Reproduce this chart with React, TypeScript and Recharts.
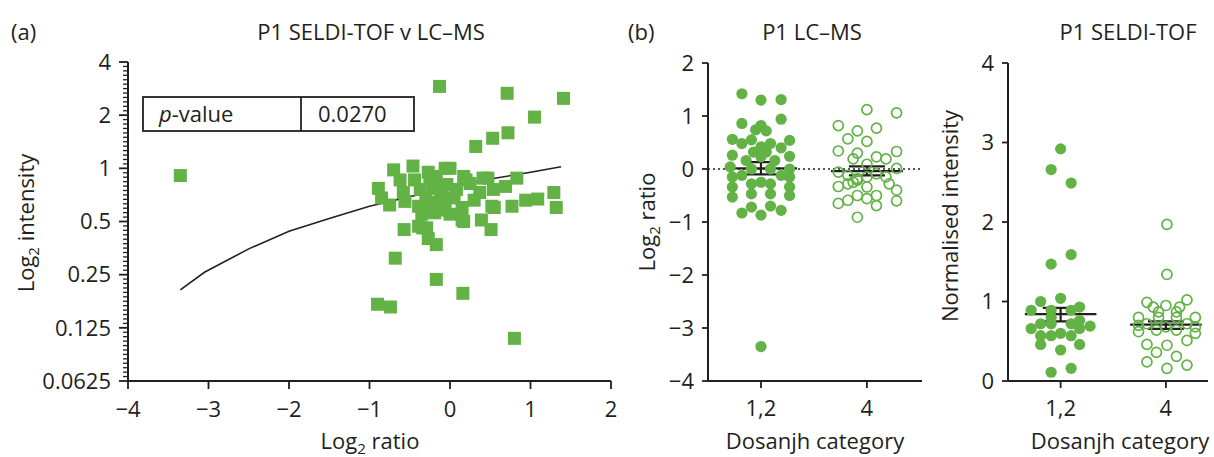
import React from "react";
import { ScatterChart, Scatter, XAxis, YAxis, ReferenceLine } from "recharts";

const GREEN = "#62b246";
const INK = "#231f20";
const FONT = '"Open Sans", "Noto Sans", sans-serif';

// panel (a): log2 ratio (LC-MS) vs SELDI-TOF intensity
const ratioTicks = [-4, -3, -2, -1, 0, 1, 2];
const intensityTicks = [0.0625, 0.125, 0.25, 0.5, 1, 2, 4];
const scatterPoints: [number, number][] = [
  [-3.35, 0.91], [-0.13, 2.91], [0.71, 2.66], [1.41, 2.49], [1.05, 1.95], [0.72, 1.59],
  [0.53, 1.48], [0.32, 1.33], [1.29, 0.73], [1.32, 0.6], [1.09, 0.67], [0.94, 0.66],
  [0.77, 0.61], [0.55, 0.6], [0.83, 0.88], [0.69, 0.79], [0.47, 0.88], [0.2, 0.86],
  [0.17, 0.5], [0.39, 0.51], [0.51, 0.45], [-0.57, 0.45], [-0.34, 0.46], [-0.27, 0.4],
  [-0.17, 0.37], [-0.68, 0.31], [-0.17, 0.235], [0.16, 0.196], [-0.9, 0.17], [-0.74, 0.164],
  [0.8, 0.109], [-0.7, 0.98], [-0.46, 1.03], [0.0, 1.0], [-0.27, 0.95], [-0.06, 1.0],
  [-0.89, 0.77], [-0.62, 0.86], [-0.44, 0.86], [-0.17, 0.9], [0.17, 0.9], [0.41, 0.88],
  [-0.85, 0.68], [-0.75, 0.62], [-0.58, 0.73], [-0.37, 0.76], [-0.21, 0.77], [-0.04, 0.81],
  [0.08, 0.76], [0.25, 0.82], [0.37, 0.73], [0.54, 0.76], [-0.56, 0.65], [-0.39, 0.61],
  [-0.23, 0.64], [-0.06, 0.62], [0.15, 0.6], [0.52, 0.61], [-0.35, 0.55], [-0.19, 0.56],
  [0.15, 0.51], [-0.39, 0.47], [-0.29, 0.46], [-0.12, 0.7], [-0.3, 0.68], [0.05, 0.68],
  [-0.15, 0.58], [0.3, 0.66], [-0.25, 0.85], [-0.1, 0.78], [-0.2, 0.6], [0.0, 0.55],
  [-0.08, 0.66], [-0.32, 0.58],
];
// fitted line
const fitLine: [number, number][] = [
  [-3.35, 0.205], [-3.05, 0.258], [-2.5, 0.35], [-2.0, 0.44], [-1.5, 0.52], [-1.0, 0.61],
  [-0.5, 0.69], [0.0, 0.78], [0.5, 0.87], [1.0, 0.95], [1.38, 1.02],
];

// panel (b): categories and per-group points as [jitter, value]
const categories = ["1,2", "4"];
const lcTicks = [-4, -3, -2, -1, 0, 1, 2];
const lcCat12: [number, number][] = [
  [-0.18, 1.42], [0, 1.3], [0.19, 1.31], [0.19, 0.94], [-0.18, 0.86], [0, 0.82],
  [-0.05, 0.74], [0.05, 0.72], [-0.27, 0.56], [-0.09, 0.55], [-0.18, 0.48], [0.09, 0.48],
  [0.27, 0.54], [0.19, 0.4], [0, 0.42], [-0.07, 0.32], [0.05, 0.32], [-0.27, 0.26],
  [0.27, 0.24], [-0.14, 0.16], [0.13, 0.16], [0, 0.23], [-0.29, 0.04], [0.27, 0.0],
  [-0.09, 0.0], [0.09, 0.0], [-0.27, -0.15], [0.27, -0.15], [-0.18, -0.12], [0.19, -0.12],
  [-0.27, -0.34], [0.27, -0.34], [-0.09, -0.28], [0.09, -0.28], [0, -0.25], [-0.27, -0.53],
  [0.27, -0.5], [-0.09, -0.47], [0.09, -0.47], [-0.18, -0.83], [-0.09, -0.72], [0, -0.87],
  [0.09, -0.7], [0.19, -0.78], [0, -3.35],
];
const lcCat4: [number, number][] = [
  [0, 1.12], [0.28, 1.06], [-0.27, 0.82], [0.09, 0.77], [-0.09, 0.72], [-0.18, 0.57],
  [0, 0.52], [-0.27, 0.34], [-0.09, 0.3], [0.28, 0.33], [0.09, 0.23], [-0.13, 0.19],
  [0.18, 0.19], [0, 0.09], [-0.27, -0.06], [0.28, 0.01], [-0.18, -0.12], [-0.09, -0.18],
  [-0.13, -0.25], [0, -0.15], [0.09, -0.09], [0.18, -0.15], [0.21, -0.28], [-0.27, -0.33],
  [-0.18, -0.28], [-0.09, -0.21], [0, -0.34], [0.28, -0.4], [0.09, -0.5], [-0.09, -0.5],
  [0, -0.56], [-0.18, -0.59], [-0.27, -0.65], [0.09, -0.69], [0.28, -0.6], [-0.09, -0.91],
];
const lcMean = [0.01, -0.04];
const lcUpper = [0.13, 0.05];
const lcLower = [-0.1, -0.12];

const seldiTicks = [0, 1, 2, 3, 4];
const seldiCat12: [number, number][] = [
  [0, 2.92], [-0.09, 2.66], [0.1, 2.49], [0.1, 1.59], [-0.09, 1.47], [-0.19, 1.0],
  [0, 1.04], [0.18, 0.93], [-0.28, 0.89], [-0.09, 0.89], [0.1, 0.89], [0.28, 0.69],
  [-0.28, 0.66], [-0.19, 0.72], [-0.09, 0.72], [0.1, 0.72], [0.18, 0.66], [-0.19, 0.57],
  [-0.09, 0.57], [0, 0.6], [0.1, 0.57], [-0.19, 0.46], [0.18, 0.46], [0, 0.39],
  [-0.09, 0.11], [0.1, 0.16], [-0.09, 0.8], [0.18, 0.76],
];
const seldiCat4: [number, number][] = [
  [0.01, 1.97], [0.01, 1.34], [-0.18, 0.99], [0.2, 1.02], [0, 0.95], [-0.26, 0.8],
  [0.28, 0.8], [-0.07, 0.87], [0.1, 0.87], [-0.18, 0.72], [0.2, 0.72], [-0.26, 0.62],
  [0.28, 0.6], [-0.09, 0.64], [0.1, 0.64], [0, 0.68], [-0.18, 0.46], [0.2, 0.51],
  [0.01, 0.45], [-0.09, 0.36], [0.1, 0.31], [-0.18, 0.24], [0.2, 0.2], [0.01, 0.16],
  [-0.07, 0.8], [0.1, 0.8], [-0.26, 0.7], [0.28, 0.68], [-0.12, 0.93], [0.13, 0.93],
];
const seldiMean = [0.84, 0.71];
const seldiUpper = [0.92, 0.75];
const seldiLower = [0.75, 0.655];

const minus = (v: number) => (v < 0 ? "\u2212" + Math.abs(v) : String(v));

// log2 axis: 11 minor ticks between each pair of powers of two, placed on the y axis (x = -4)
const minorTicks: { x: number; y: number }[] = [];
intensityTicks.slice(0, -1).forEach((t) => {
  for (let k = 1; k < 12; k++) minorTicks.push({ x: -4, y: t * Math.pow(2, k / 12) });
});

const MinorTick = (props: any) => (
  <line x1={props.cx} x2={props.cx - 5} y1={props.cy} y2={props.cy} stroke={INK} strokeWidth={1.3} />
);
const Square = (props: any) => (
  <rect x={props.cx - 6.5} y={props.cy - 6.5} width={13} height={13} fill={GREEN} />
);
const Dot = (props: any) => <circle cx={props.cx} cy={props.cy} r={5.6} fill={GREEN} />;
const Ring = (props: any) => (
  <circle cx={props.cx} cy={props.cy} r={5} fill="none" stroke={GREEN} strokeWidth={1.7} />
);
const NoShape = () => <g />;

const tickStyle = { fontSize: 22, fill: INK, fontFamily: FONT };
const axisLine = { stroke: INK, strokeWidth: 2 };
const tickLine = { stroke: INK, strokeWidth: 1.8 };

function toXY(pts: [number, number][], cat: number) {
  return pts.map(([dx, v]) => ({ x: cat + dx, y: v }));
}

function MeanBars({ mean, upper, lower }: { mean: number[]; upper: number[]; lower: number[] }) {
  return (
    <>
      {mean.map((m, i) => (
        <ReferenceLine key={"m" + i} segment={[{ x: i - 0.34, y: m }, { x: i + 0.34, y: m }]} stroke={INK} strokeWidth={2.2} />
      ))}
      {upper.map((u, i) => (
        <ReferenceLine key={"u" + i} segment={[{ x: i - 0.17, y: u }, { x: i + 0.17, y: u }]} stroke={INK} strokeWidth={2.2} />
      ))}
      {lower.map((lo, i) => (
        <ReferenceLine key={"l" + i} segment={[{ x: i - 0.17, y: lo }, { x: i + 0.17, y: lo }]} stroke={INK} strokeWidth={2.2} />
      ))}
      {upper.map((u, i) => (
        <ReferenceLine key={"v" + i} segment={[{ x: i, y: lower[i] }, { x: i, y: u }]} stroke={INK} strokeWidth={2.2} />
      ))}
    </>
  );
}

function Log2Label({ x, y, rest, rotate }: { x: number; y: number; rest: string; rotate?: boolean }) {
  return (
    <text
      x={x}
      y={y}
      textAnchor="middle"
      fontSize={22}
      fill={INK}
      fontFamily={FONT}
      transform={rotate ? `rotate(-90 ${x} ${y})` : undefined}
    >
      <tspan>Log</tspan>
      <tspan fontSize={15} dy={5}>2</tspan>
      <tspan dy={-5}>{" " + rest}</tspan>
    </text>
  );
}

export default function App() {
  const txt = { fontSize: 22, fill: INK, fontFamily: FONT };
  return (
    <div style={{ position: "fixed", left: 0, top: 0, width: 1214, height: 457, background: "#fff" }}>
      <div style={{ position: "absolute", left: 0, top: 0 }}>
        <ScatterChart width={620} height={457} margin={{ top: 62, right: 9, bottom: 36, left: 38 }}>
          <XAxis
            type="number"
            dataKey="x"
            domain={[-4, 2]}
            ticks={ratioTicks}
            tickFormatter={minus}
            tick={tickStyle}
            tickSize={8}
            tickMargin={12}
            height={40}
            axisLine={axisLine}
            tickLine={tickLine}
          />
          <YAxis
            type="number"
            dataKey="y"
            scale="log"
            domain={[0.0625, 4]}
            ticks={intensityTicks}
            interval={0}
            tickFormatter={(v: number) => String(v)}
            tick={tickStyle}
            tickSize={9}
            tickMargin={8}
            width={90}
            axisLine={axisLine}
            tickLine={tickLine}
          />
          <Scatter data={minorTicks} shape={MinorTick} isAnimationActive={false} />
          <Scatter
            data={fitLine.map(([x, y]) => ({ x, y }))}
            line={{ stroke: INK, strokeWidth: 1.6 }}
            shape={NoShape}
            isAnimationActive={false}
          />
          <Scatter data={scatterPoints.map(([x, y]) => ({ x, y }))} shape={Square} isAnimationActive={false} />
        </ScatterChart>
      </div>

      <div style={{ position: "absolute", left: 620, top: 0 }}>
        <ScatterChart width={310} height={457} margin={{ top: 63, right: 8, bottom: 36, left: 28 }}>
          <XAxis
            type="number"
            dataKey="x"
            domain={[-0.5, 1.52]}
            ticks={[0, 1]}
            tickFormatter={(v: number) => categories[v]}
            tick={tickStyle}
            tickSize={7}
            tickMargin={12}
            height={40}
            axisLine={axisLine}
            tickLine={tickLine}
          />
          <YAxis
            type="number"
            dataKey="y"
            domain={[-4, 2]}
            ticks={lcTicks}
            interval={0}
            tickFormatter={minus}
            tick={tickStyle}
            tickSize={6}
            tickMargin={8}
            width={60}
            axisLine={axisLine}
            tickLine={tickLine}
          />
          <ReferenceLine y={0} stroke={INK} strokeWidth={1.6} strokeDasharray="2 3" />
          <Scatter data={toXY(lcCat12, 0)} shape={Dot} isAnimationActive={false} />
          <Scatter data={toXY(lcCat4, 1)} shape={Ring} isAnimationActive={false} />
          {MeanBars({ mean: lcMean, upper: lcUpper, lower: lcLower })}
        </ScatterChart>
      </div>

      <div style={{ position: "absolute", left: 940, top: 0 }}>
        <ScatterChart width={274} height={457} margin={{ top: 63, right: 6, bottom: 36, left: 8 }}>
          <XAxis
            type="number"
            dataKey="x"
            domain={[-0.5, 1.4]}
            ticks={[0, 1]}
            tickFormatter={(v: number) => categories[v]}
            tick={tickStyle}
            tickSize={7}
            tickMargin={12}
            height={40}
            axisLine={axisLine}
            tickLine={tickLine}
          />
          <YAxis
            type="number"
            dataKey="y"
            domain={[0, 4]}
            ticks={seldiTicks}
            interval={0}
            tick={tickStyle}
            tickSize={6}
            tickMargin={8}
            width={60}
            axisLine={axisLine}
            tickLine={tickLine}
          />
          <Scatter data={toXY(seldiCat12, 0)} shape={Dot} isAnimationActive={false} />
          <Scatter data={toXY(seldiCat4, 1)} shape={Ring} isAnimationActive={false} />
          {MeanBars({ mean: seldiMean, upper: seldiUpper, lower: seldiLower })}
        </ScatterChart>
      </div>

      <svg width={1214} height={457} style={{ position: "absolute", left: 0, top: 0, pointerEvents: "none" }}>
        <text x={11} y={40} {...txt}>(a)</text>
        <text x={371} y={40} textAnchor="middle" {...txt}>P1 SELDI-TOF v LC–MS</text>
        <text x={628} y={40} {...txt}>(b)</text>
        <text x={812} y={40} textAnchor="middle" {...txt}>P1 LC–MS</text>
        <text x={1128} y={40} textAnchor="middle" {...txt}>P1 SELDI-TOF</text>

        <Log2Label x={370} y={449} rest="ratio" />
        <Log2Label x={34} y={223} rest="intensity" rotate />
        <Log2Label x={655} y={222} rest="ratio" rotate />
        <text x={958} y={216} textAnchor="middle" fontSize={22} fill={INK} fontFamily={FONT} transform="rotate(-90 958 216)">
          Normalised intensity
        </text>
        <text x={815} y={449} textAnchor="middle" fontSize={22} fill={INK} fontFamily={FONT}>Dosanjh category</text>
        <text x={1120} y={449} textAnchor="middle" fontSize={22} fill={INK} fontFamily={FONT}>Dosanjh category</text>

        <rect x={143} y={97} width={271} height={34} fill="#fff" stroke={INK} strokeWidth={1.8} />
        <line x1={301} x2={301} y1={97} y2={131} stroke={INK} strokeWidth={1.8} />
        <text x={159} y={122} {...txt}>
          <tspan fontStyle="italic">p</tspan>-value
        </text>
        <text x={318} y={122} {...txt}>0.0270</text>
      </svg>
    </div>
  );
}
